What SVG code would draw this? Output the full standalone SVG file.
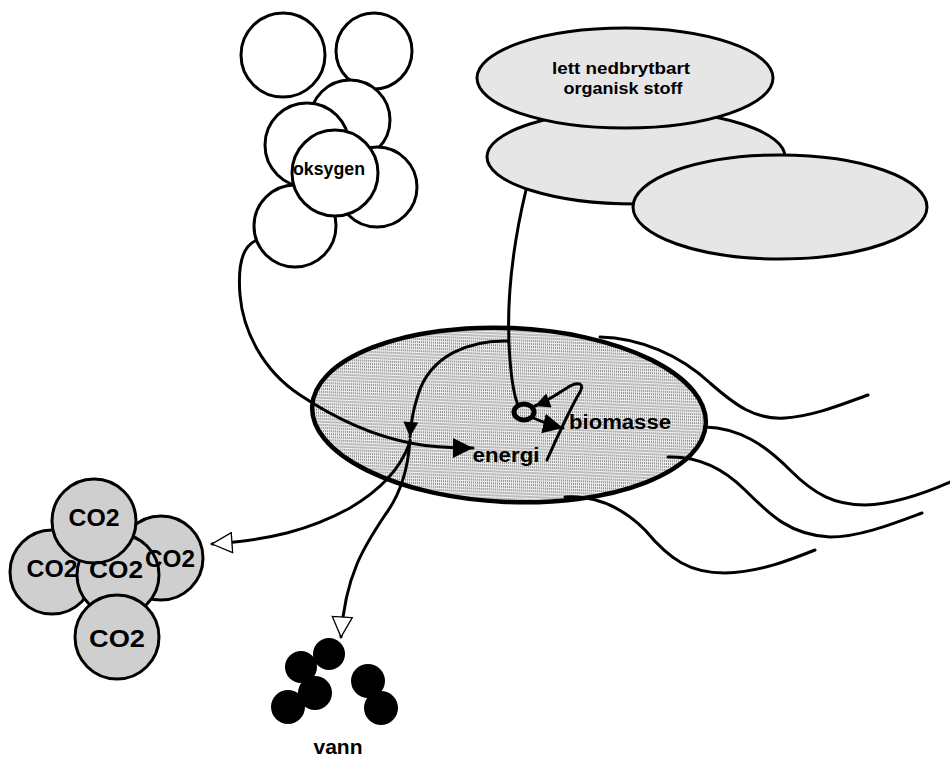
<svg xmlns="http://www.w3.org/2000/svg" width="950" height="757" viewBox="0 0 950 757">
<style>
.o2{fill:#fff;stroke:#000;stroke-width:3}
.org{fill:#e6e6e6;stroke:#000;stroke-width:3}
.co2{fill:#cfcfcf;stroke:#000;stroke-width:3}
.h2o{fill:#000}
.ln{fill:none;stroke:#000;stroke-width:3;stroke-linecap:round}
.fl{fill:none;stroke:#000;stroke-width:3;stroke-linecap:round}
.t{font-family:"Liberation Sans",Arial,sans-serif;font-weight:bold;fill:#000}
</style>
<defs>
<pattern id="dots" width="2" height="3" patternUnits="userSpaceOnUse">
<rect width="2" height="3" fill="#f0f0f0"/>
<rect x="0" y="0" width="1" height="2" fill="#8c8c8c"/>
</pattern>
<marker id="fa" viewBox="0 0 20 20" refX="20" refY="10" markerWidth="20" markerHeight="20" markerUnits="userSpaceOnUse" orient="auto">
<path d="M0,0 L20,10 L0,20 z" fill="#000"/>
</marker>
<marker id="fs" viewBox="0 0 20 20" refX="20" refY="10" markerWidth="17" markerHeight="15" markerUnits="userSpaceOnUse" orient="auto">
<path d="M0,0 L20,10 L0,20 z" fill="#000"/>
</marker>
<marker id="ha" viewBox="-1 -1 22 22" refX="20" refY="10" markerWidth="22" markerHeight="22" markerUnits="userSpaceOnUse" orient="auto">
<path d="M0,0 L20,10 L0,20 z" fill="#fff" stroke="#000" stroke-width="1.3"/>
</marker>
</defs>

<g id="oksygen">
<circle class="o2" cx="283" cy="55" r="42"/>
<circle class="o2" cx="374" cy="51" r="38"/>
<circle class="o2" cx="350" cy="120" r="40"/>
<circle class="o2" cx="307" cy="145" r="42"/>
<circle class="o2" cx="377" cy="187" r="40"/>
<circle class="o2" cx="295" cy="226" r="41"/>
<circle class="o2" cx="335" cy="173" r="43"/>
<text class="t" x="329" y="175" font-size="17.5" text-anchor="middle" textLength="72" lengthAdjust="spacingAndGlyphs">oksygen</text>
</g>

<g id="organisk-stoff">
<ellipse class="org" cx="636" cy="157" rx="149" ry="47"/>
<ellipse class="org" cx="780" cy="207" rx="147" ry="52"/>
<ellipse class="org" cx="625" cy="78" rx="148" ry="50"/>
<text class="t" x="621" y="74" font-size="17" text-anchor="middle" textLength="138" lengthAdjust="spacingAndGlyphs">lett nedbrytbart</text>
<text class="t" x="623" y="94" font-size="17" text-anchor="middle" textLength="119" lengthAdjust="spacingAndGlyphs">organisk stoff</text>
</g>

<g id="celle">
<ellipse cx="509" cy="415" rx="197" ry="87" transform="rotate(2.5 509 415)" fill="url(#dots)" stroke="#000" stroke-width="4.5"/>
<path class="fl" d="M600 337 C640 338 680 355 710 383 C735 405 755 420 785 418 C815 416 845 403 868 395"/>
<path class="fl" d="M705 427 C740 428 765 445 790 470 C815 495 835 505 865 505 C895 504 925 493 950 482"/>
<path class="fl" d="M668 457 C700 456 725 470 745 490 C770 515 790 535 830 537 C860 537 895 523 922 513"/>
<path class="fl" d="M565 497 C600 495 625 510 645 530 C670 560 690 573 725 573 C760 572 790 560 815 550"/>
<text class="t" x="506" y="462" font-size="21" text-anchor="middle" textLength="67" lengthAdjust="spacingAndGlyphs">energi</text>
<text class="t" x="620" y="429" font-size="20" text-anchor="middle" textLength="102" lengthAdjust="spacingAndGlyphs">biomasse</text>
</g>

<g id="co2">
<circle class="co2" cx="161" cy="558" r="42"/>
<circle class="co2" cx="52" cy="572" r="42"/>
<circle class="co2" cx="118" cy="575" r="41"/>
<circle class="co2" cx="94" cy="521" r="42"/>
<circle class="co2" cx="117" cy="637" r="42"/>
<text class="t" x="94" y="526" font-size="24" text-anchor="middle" textLength="51" lengthAdjust="spacingAndGlyphs">CO2</text>
<text class="t" x="52" y="577" font-size="24" text-anchor="middle" textLength="51" lengthAdjust="spacingAndGlyphs">CO2</text>
<text class="t" x="116" y="578" font-size="24" text-anchor="middle" textLength="54" lengthAdjust="spacingAndGlyphs">CO2</text>
<text class="t" x="170" y="567" font-size="24" text-anchor="middle" textLength="50" lengthAdjust="spacingAndGlyphs">CO2</text>
<text class="t" x="117" y="647" font-size="24" text-anchor="middle" textLength="56" lengthAdjust="spacingAndGlyphs">CO2</text>
</g>

<g id="vann">
<circle class="h2o" cx="329" cy="654" r="16"/>
<circle class="h2o" cx="301" cy="667" r="16"/>
<circle class="h2o" cx="315" cy="693" r="17"/>
<circle class="h2o" cx="288" cy="707" r="17"/>
<circle class="h2o" cx="368" cy="681" r="17"/>
<circle class="h2o" cx="381" cy="708" r="17"/>
<text class="t" x="338" y="754" font-size="21" text-anchor="middle">vann</text>
</g>

<g id="connectors">
<path class="ln" d="M255 241 C240 248 238 270 240 295 C243 330 262 370 300 395 C330 415 370 435 410 443 C430 447 450 448 473 448" marker-end="url(#fa)"/>
<path class="ln" d="M526 190 C514 240 505 300 510 360 C512 385 515 398 518 405"/>
<ellipse cx="524" cy="412" rx="10" ry="8" fill="none" stroke="#000" stroke-width="5"/>
<path class="ln" d="M508 341 C470 340 430 355 418 395 C413 410 411 420 410 437" marker-end="url(#fs)"/>
<path class="ln" stroke-width="4" d="M531 417 C540 421 550 425 563 428" marker-end="url(#fa)"/>
<path class="ln" d="M547 460 C560 430 575 400 580 392 C585 383 578 382 570 386 C560 392 550 400 535 406" marker-end="url(#fs)"/>
<path class="ln" d="M410 440 C408 470 400 495 385 515 C365 545 345 575 341 637" marker-end="url(#ha)"/>
<path class="ln" d="M410 442 C400 470 380 490 350 508 C310 530 270 540 212 544" marker-end="url(#ha)"/>
</g>
</svg>
